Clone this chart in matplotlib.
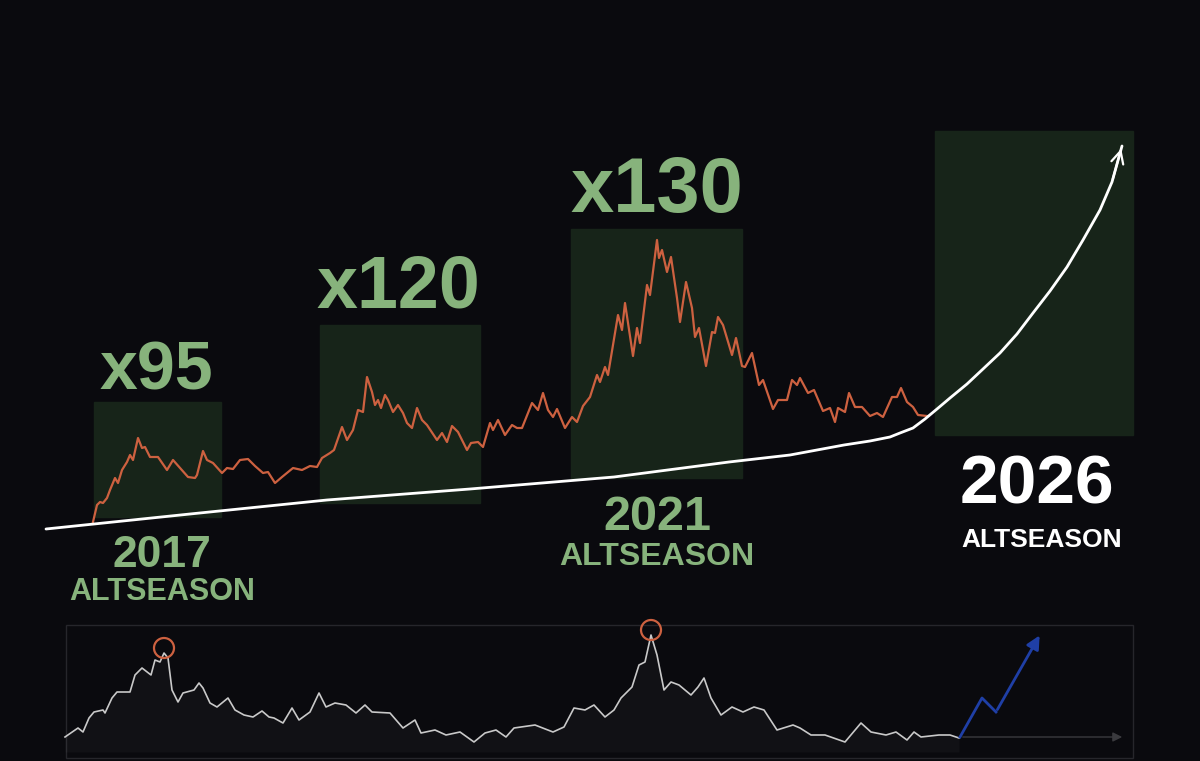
import matplotlib.pyplot as plt
from matplotlib.patches import Rectangle, Circle

# colors
bg = '#0a0a0e'
box_green = '#172419'
text_green = '#87b37c'
orange = '#cd6140'
blue = '#1f3fa6'

# main price line (x position, y position on the canvas, y grows downward)
price_x = [93, 97, 100, 103, 107, 110, 115, 118, 122, 127,
           130, 133, 138, 142, 145, 150, 158, 167, 173, 180,
           188, 195, 197, 203, 207, 213, 222, 227, 233, 240,
           248, 255, 263, 268, 275, 282, 293, 302, 310, 317,
           322, 330, 334, 342, 347, 353, 358, 363, 367, 372,
           375, 378, 381, 385, 388, 393, 398, 403, 407, 412,
           417, 422, 427, 437, 442, 447, 452, 458, 467, 471,
           478, 483, 490, 493, 498, 505, 512, 517, 522, 532,
           538, 543, 548, 553, 557, 565, 572, 577, 583, 590,
           597, 600, 605, 608, 618, 622, 625, 633, 637, 640,
           647, 650, 657, 659, 662, 667, 671, 677, 680, 686,
           692, 695, 699, 706, 712, 715, 718, 723, 732, 736,
           742, 745, 752, 759, 763, 773, 778, 787, 792, 797,
           800, 808, 814, 823, 830, 835, 838, 845, 849, 855,
           862, 870, 877, 883, 892, 897, 901, 907, 913, 918,
           927]
price_y = [522, 505, 502, 503, 498, 490, 478, 483, 470, 462,
           455, 460, 438, 448, 447, 457, 457, 470, 460, 468,
           477, 478, 475, 451, 460, 463, 473, 468, 469, 460,
           459, 466, 473, 472, 483, 477, 468, 470, 466, 467,
           458, 453, 450, 427, 440, 430, 410, 412, 377, 392,
           405, 400, 408, 395, 400, 412, 405, 413, 423, 428,
           408, 420, 425, 440, 433, 442, 426, 432, 450, 443,
           442, 447, 423, 430, 420, 435, 425, 428, 428, 403,
           410, 393, 410, 417, 409, 428, 417, 422, 406, 397,
           375, 382, 367, 375, 315, 330, 303, 356, 328, 343,
           285, 295, 240, 258, 250, 272, 257, 298, 322, 282,
           308, 337, 328, 366, 332, 333, 317, 325, 355, 338,
           366, 367, 353, 385, 380, 409, 400, 400, 380, 385,
           378, 393, 390, 411, 408, 422, 408, 412, 393, 407,
           407, 416, 413, 417, 397, 397, 388, 402, 407, 415,
           416]

# white trend curve
trend_x = [46, 190, 327, 470, 614, 729, 790, 844, 870, 890, 900, 913, 925, 937, 950,
           967, 983, 1000, 1017, 1033, 1050, 1067, 1083, 1100, 1112, 1122]
trend_y = [529, 514, 500, 489, 477, 462, 455, 445, 441, 437, 433, 428, 419, 409, 398,
           384, 369, 353, 334, 313, 291, 267, 240, 210, 182, 146]

# altseason boxes: left, right, top, bottom
box_left = [94, 320, 571, 935]
box_right = [221, 480, 742, 1133]
box_top = [402, 325, 229, 131]
box_bottom = [517, 503, 478, 435]

# multipliers
mult_labels = ['x95', 'x120', 'x130']
mult_x = [156, 398, 657]
mult_y = [390, 308, 212]
mult_size = [49, 53, 56]

# bottom panel line
low_x = [65, 78, 83, 89, 94, 103, 105, 112, 117, 130,
         135, 142, 151, 155, 160, 164, 168, 172, 178, 183,
         194, 199, 203, 210, 217, 228, 235, 244, 253, 262,
         269, 274, 283, 292, 299, 310, 319, 326, 335, 346,
         356, 365, 372, 390, 403, 415, 421, 435, 446, 460,
         474, 485, 496, 506, 514, 535, 553, 564, 574, 585,
         594, 605, 614, 621, 632, 639, 645, 651, 657, 664,
         671, 679, 691, 698, 704, 711, 721, 732, 743, 754,
         764, 777, 793, 800, 811, 825, 845, 861, 871, 886,
         896, 907, 914, 921, 939, 950, 959]
low_y = [737, 728, 732, 718, 712, 710, 713, 698, 692, 692,
         675, 668, 675, 660, 662, 653, 658, 690, 702, 693,
         690, 683, 688, 703, 707, 698, 710, 715, 717, 711,
         717, 718, 723, 708, 720, 712, 693, 707, 703, 705,
         713, 705, 712, 713, 728, 720, 733, 730, 735, 732,
         742, 733, 730, 737, 728, 725, 732, 727, 708, 710,
         705, 717, 710, 698, 687, 665, 662, 635, 655, 690,
         682, 685, 695, 687, 678, 698, 715, 707, 712, 707,
         710, 730, 725, 728, 735, 735, 742, 723, 732, 735,
         732, 740, 732, 737, 735, 735, 738]

peak_x = [164, 651]
peak_y = [648, 630]

proj_x = [960, 982, 996, 1041]
proj_y = [737, 698, 712, 633]

plt.rcParams['font.family'] = ['Liberation Sans', 'DejaVu Sans']

fig = plt.figure(figsize=(12, 7.61), dpi=100, facecolor=bg)
ax = fig.add_axes([0, 0, 1, 1])
ax.set_facecolor(bg)
ax.set_xlim(0, 1200)
ax.set_ylim(761, 0)
ax.axis('off')

# green boxes
for l, r, t, b in zip(box_left, box_right, box_top, box_bottom):
    ax.add_patch(Rectangle((l, t), r - l, b - t, color=box_green, zorder=1))

ax.plot(price_x, price_y, color=orange, lw=1.6, zorder=3)
ax.plot(trend_x, trend_y, color='white', lw=2, zorder=4,
        solid_capstyle='round', solid_joinstyle='round')
ax.annotate('', xy=(trend_x[-1], trend_y[-1]), xytext=(trend_x[-2], trend_y[-2]),
            arrowprops=dict(arrowstyle='->', color='white', lw=1.6, mutation_scale=22),
            zorder=5)

for lab, x, y, s in zip(mult_labels, mult_x, mult_y, mult_size):
    ax.text(x, y, lab, color=text_green, fontsize=s, fontweight='bold',
            ha='center', va='baseline', zorder=6)

ax.text(162, 567, '2017', color=text_green, fontsize=32, fontweight='bold', ha='center', va='baseline')
ax.text(162, 600, 'ALTSEASON', color=text_green, fontsize=22, fontweight='bold', ha='center', va='baseline')
ax.text(657, 530, '2021', color=text_green, fontsize=35, fontweight='bold', ha='center', va='baseline')
ax.text(657, 565, 'ALTSEASON', color=text_green, fontsize=23, fontweight='bold', ha='center', va='baseline')
ax.text(1037, 504, '2026', color='white', fontsize=50, fontweight='bold', ha='center', va='baseline')
ax.text(1042, 547, 'ALTSEASON', color='white', fontsize=19, fontweight='bold', ha='center', va='baseline')

# bottom panel
ax.add_patch(Rectangle((66, 625), 1133 - 66, 758 - 625, fill=False, ec='#26262b', lw=1, zorder=1))
ax.fill_between(low_x, low_y, 752, color='white', alpha=0.03, lw=0, zorder=2)
ax.plot(low_x, low_y, color='#c9c9c9', lw=1.2, zorder=3)
for x, y in zip(peak_x, peak_y):
    ax.add_patch(Circle((x, y), 10, fill=False, ec=orange, lw=1.6, zorder=4))

ax.annotate('', xy=(1125, 737), xytext=(960, 737),
            arrowprops=dict(arrowstyle='-|>', color='#3a3a3e', lw=1, mutation_scale=14))
ax.plot(proj_x[:-1], proj_y[:-1], color=blue, lw=2, zorder=4)
ax.annotate('', xy=(proj_x[-1], proj_y[-1]), xytext=(proj_x[-2], proj_y[-2]),
            arrowprops=dict(arrowstyle='-|>', color=blue, lw=2, mutation_scale=20),
            zorder=4)

fig.savefig('out.png', dpi=100, facecolor=bg)
